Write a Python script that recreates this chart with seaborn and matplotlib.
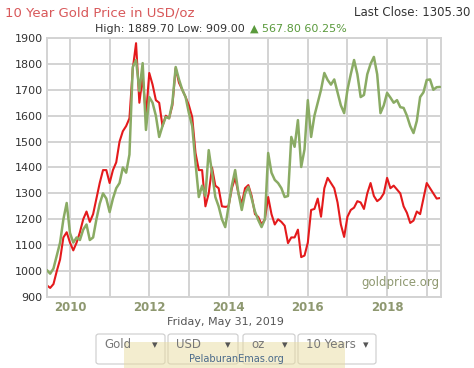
import numpy as np
import pandas as pd
import matplotlib
matplotlib.use("Agg")
import matplotlib.pyplot as plt
import seaborn as sns
from matplotlib.patches import FancyBboxPatch, Rectangle

# ---- data (monthly, Jun 2009 - May 2019) ----
months = pd.date_range("2009-06-01", "2019-05-01", freq="MS")

usd_price = [
    945, 935, 950, 1000, 1045, 1130, 1150,
    1110, 1080, 1110, 1150, 1200, 1230, 1190, 1220, 1280, 1340, 1390, 1390,
    1340, 1390, 1420, 1500, 1540, 1560, 1590, 1780, 1880, 1650, 1750, 1600,
    1765, 1720, 1660, 1650, 1560, 1600, 1590, 1640, 1784, 1727, 1700, 1672,
    1640, 1595, 1456, 1390, 1390, 1250, 1300, 1400, 1330, 1320, 1250, 1248,
    1250, 1320, 1360, 1300, 1260, 1320, 1332, 1290, 1220, 1209, 1180, 1200,
    1286, 1220, 1180, 1200, 1190, 1175, 1108, 1130, 1130, 1160, 1054, 1060,
    1110, 1236, 1240, 1280, 1210, 1320, 1360, 1340, 1320, 1265, 1180, 1132,
    1210, 1236, 1245, 1270, 1265, 1240, 1300, 1340, 1290, 1270, 1280, 1300,
    1360, 1320, 1330, 1315, 1300, 1250, 1225, 1186, 1195, 1230, 1220, 1280,
    1340, 1320, 1300, 1280, 1282,
]

alt_price = [
    1004, 990, 1010, 1060, 1110, 1200, 1263,
    1147, 1110, 1130, 1120, 1160, 1180, 1120, 1130, 1200, 1260, 1300, 1280,
    1228, 1280, 1320, 1340, 1400, 1380, 1450, 1788, 1815, 1695, 1803, 1545,
    1672, 1650, 1600, 1518, 1560, 1595, 1590, 1650, 1788, 1740, 1700, 1672,
    1610, 1560, 1417, 1286, 1330, 1290, 1467, 1380, 1286, 1250, 1200, 1170,
    1250, 1330, 1390, 1300, 1236, 1300, 1325, 1280, 1230, 1197, 1170, 1200,
    1456, 1380, 1352, 1340, 1320, 1286, 1290, 1518, 1480, 1583, 1402, 1470,
    1660, 1518, 1600, 1650, 1700, 1765, 1738, 1720, 1740, 1690, 1640, 1610,
    1700, 1760, 1815, 1760, 1672, 1680, 1760, 1800, 1827, 1760, 1610, 1640,
    1688, 1670, 1650, 1660, 1633, 1630, 1600, 1560, 1533, 1580, 1672, 1690,
    1738, 1740, 1700, 1710, 1711,
]

y_ticks = [900, 1000, 1100, 1200, 1300, 1400, 1500, 1600, 1700, 1800, 1900]
x_ticks = [2010, 2012, 2014, 2016, 2018]

# ---- figure ----
sns.set_theme(style="white")
plt.rcParams["font.family"] = ["DejaVu Sans"]

fig = plt.figure(figsize=(4.74, 3.68), dpi=100)
ax = fig.add_axes([47 / 474, 1 - 297 / 368, (441 - 47) / 474, (297 - 38) / 368])

dec_year = months.year + (months.month - 1) / 12.0
df = pd.DataFrame({"year": dec_year, "usd": usd_price, "alt": alt_price})

sns.lineplot(data=df, x="year", y="alt", ax=ax, color="#8aab64", lw=1.8, zorder=3)
sns.lineplot(data=df, x="year", y="usd", ax=ax, color="#e41a1c", lw=1.5, zorder=2)

ax.set_xlim(2009.42, 2019.36)
ax.set_ylim(900, 1900)

# grid
for v in range(2010, 2020):
    ax.axvline(v, color="#d3d3d3", lw=1.4, zorder=0)
for v in y_ticks:
    ax.axhline(v, color="#d3d3d3", lw=1.4, zorder=0)

ax.set_xticks(x_ticks)
ax.set_xticklabels([str(t) for t in x_ticks], color="#8e9870", fontsize=8.5,
                   fontweight="bold")
ax.set_yticks(y_ticks)
ax.set_yticklabels([str(t) for t in y_ticks], color="#333333", fontsize=8)
ax.tick_params(axis="both", length=0, pad=3)
ax.set_xlabel("")
ax.set_ylabel("")
for s in ax.spines.values():
    s.set_color("#d3d3d3")
    s.set_linewidth(1.4)

ax.text(0.995, 0.03, "goldprice.org", transform=ax.transAxes, ha="right",
        va="bottom", color="#8e9870", fontsize=8.5)

# ---- header texts ----
fig.text(5 / 474, 1 - 13 / 368, "10 Year Gold Price in USD/oz", color="#d8585a",
         fontsize=9.5, va="center", ha="left")
fig.text(470 / 474, 1 - 13 / 368, "Last Close: 1305.30", color="#333333",
         fontsize=8.5, va="center", ha="right")
fig.text(245 / 474, 1 - 29 / 368, "High: 1889.70 Low: 909.00", color="#333333",
         fontsize=8, va="center", ha="right")
fig.text(250 / 474, 1 - 29 / 368, "\u25b2 567.80 60.25%", color="#5a9a3c",
         fontsize=8, va="center", ha="left")

# ---- footer ----
fig.text(225 / 474, 1 - 322 / 368, "Friday, May 31, 2019", color="#555555",
         fontsize=8, va="center", ha="center")

boxes = [(96, 165, "Gold"), (168, 238, "USD"), (243, 295, "oz"), (298, 376, "10 Years")]
for x0, x1, lab in boxes:
    p = FancyBboxPatch((x0 / 474, 1 - 364 / 368), (x1 - x0) / 474, 30 / 368,
                       boxstyle="round,pad=0,rounding_size=0.006",
                       transform=fig.transFigure, facecolor="white",
                       edgecolor="#cccccc", lw=0.8)
    fig.add_artist(p)
    fig.text((x0 + 8) / 474, 1 - 345 / 368, lab, color="#777777", fontsize=8.5,
             va="center", ha="left")
    fig.text((x1 - 10) / 474, 1 - 345 / 368, "\u25be", color="#555555",
             fontsize=8, va="center", ha="center")

banner = Rectangle((124 / 474, 0), (345 - 124) / 474, 26 / 368,
                   transform=fig.transFigure, facecolor="#e8dca0", alpha=0.5,
                   edgecolor="none")
fig.add_artist(banner)
fig.text(236 / 474, 1 - 359 / 368, "PelaburanEmas.org", color="#4a6a8a",
         fontsize=7, va="center", ha="center")

fig.savefig("out.png", dpi=100)
